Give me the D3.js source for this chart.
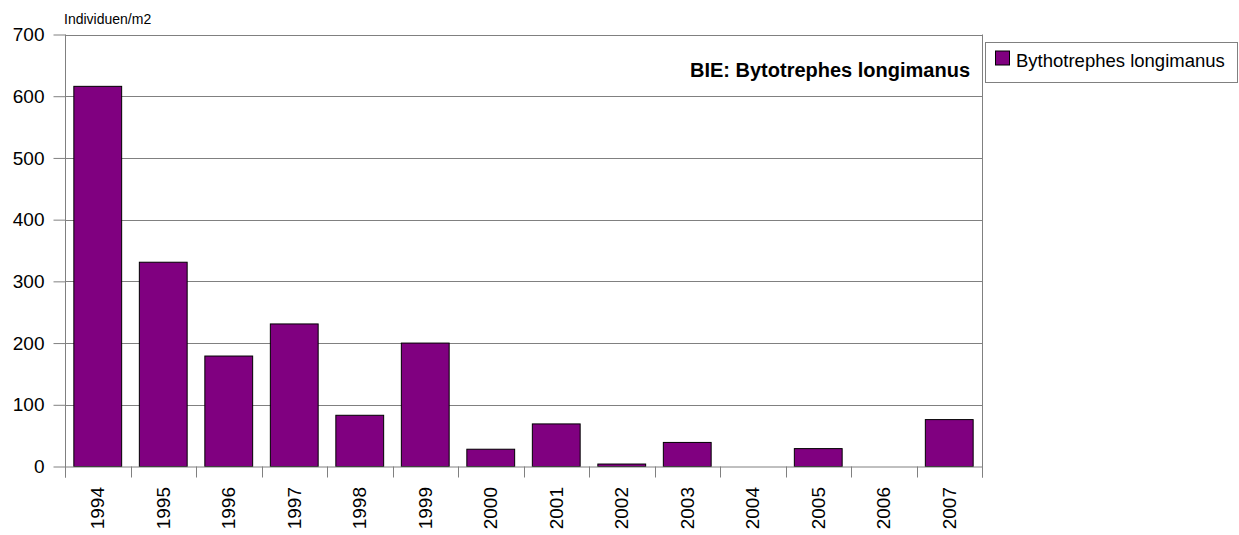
<!DOCTYPE html>
<html>
<head>
<meta charset="utf-8">
<script src="https://cdn.jsdelivr.net/npm/d3@7"></script>
<style>
  html, body { margin: 0; padding: 0; background: #fff; }
  svg { display: block; font-family: "Liberation Sans", Arial, sans-serif; }
</style>
</head>
<body>
<svg id="chart" width="1239" height="535"></svg>
<script>
const years = ["1994","1995","1996","1997","1998","1999","2000","2001","2002","2003","2004","2005","2006","2007"];
const values = [616, 331, 179, 231, 83, 200, 28, 69, 4, 39, 0, 29, 0, 76];
const yTicks = [0, 100, 200, 300, 400, 500, 600, 700];
const seriesName = "Bythotrephes longimanus";
const titleText = "BIE: Bytotrephes longimanus";
const unitText = "Individuen/m2";

const svg = d3.select("#chart");
const L = 65, R = 982, T = 34.5, B = 466.5;
const grey = "#808080";
const purple = "#800080";

const y = d3.scaleLinear().domain([0, 700]).range([B, T]);
const x = d3.scaleBand().domain(years).range([L, R]).paddingInner(0.27).paddingOuter(0.135);
const xb = d3.scaleBand().domain(years).range([L, R]).padding(0);

// gridlines
svg.append("g").selectAll("line").data(yTicks.filter(d => d > 0)).join("line")
  .attr("x1", L).attr("x2", R)
  .attr("y1", d => Math.round(y(d)) + 0.5).attr("y2", d => Math.round(y(d)) + 0.5)
  .attr("stroke", grey).attr("stroke-width", 1);

// right border
svg.append("line").attr("x1", R + 0.5).attr("x2", R + 0.5).attr("y1", T).attr("y2", B + 11)
  .attr("stroke", grey);

// bars
svg.append("g").selectAll("rect").data(years).join("rect")
  .attr("x", d => x(d))
  .attr("width", x.bandwidth())
  .attr("y", (d, i) => y(values[i]))
  .attr("height", (d, i) => B - y(values[i]))
  .attr("fill", purple)
  .attr("stroke", "#000").attr("stroke-width", 1);

// y axis
const yAxis = d3.axisLeft(y).tickValues(yTicks).tickSize(12).tickPadding(9).tickFormat(d3.format("d"));
const gy = svg.append("g").attr("transform", `translate(${L + 0.5},0)`).call(yAxis);
gy.select(".domain").attr("stroke", grey).attr("d", `M0,${T}V${B + 11}`);
gy.selectAll(".tick line").attr("stroke", grey);
gy.selectAll(".tick text").attr("font-size", 19).attr("fill", "#000")
  .attr("font-family", "Liberation Sans, Arial, sans-serif");

// x axis line
svg.append("line").attr("x1", L).attr("x2", R + 1).attr("y1", B + 0.5).attr("y2", B + 0.5).attr("stroke", grey);

// x tick marks at category boundaries
const bounds = years.map(d => xb(d)).concat([R]);
svg.append("g").selectAll("line").data(bounds).join("line")
  .attr("x1", d => Math.round(d) + 0.5).attr("x2", d => Math.round(d) + 0.5)
  .attr("y1", B).attr("y2", B + 11)
  .attr("stroke", grey);

// x labels
svg.append("g").selectAll("text").data(years).join("text")
  .attr("transform", d => `translate(${xb(d) + xb.bandwidth() / 2 + 6.5},${487}) rotate(-90)`)
  .attr("text-anchor", "end")
  .attr("font-size", 19)
  .text(d => d);

// unit label
svg.append("text").attr("x", 64).attr("y", 24).attr("font-size", 14).text(unitText);

// title
svg.append("text").attr("x", 970).attr("y", 77).attr("text-anchor", "end")
  .attr("font-size", 20).attr("font-weight", "bold").text(titleText);

// legend
const lg = svg.append("g");
lg.append("rect").attr("x", 985.5).attr("y", 42.5).attr("width", 252).attr("height", 40)
  .attr("fill", "#fff").attr("stroke", grey);
lg.append("rect").attr("x", 995.5).attr("y", 51).attr("width", 14).attr("height", 14)
  .attr("fill", purple).attr("stroke", "#000");
lg.append("text").attr("x", 1016).attr("y", 67).attr("font-size", 18.5).text(seriesName);
</script>
</body>
</html>
